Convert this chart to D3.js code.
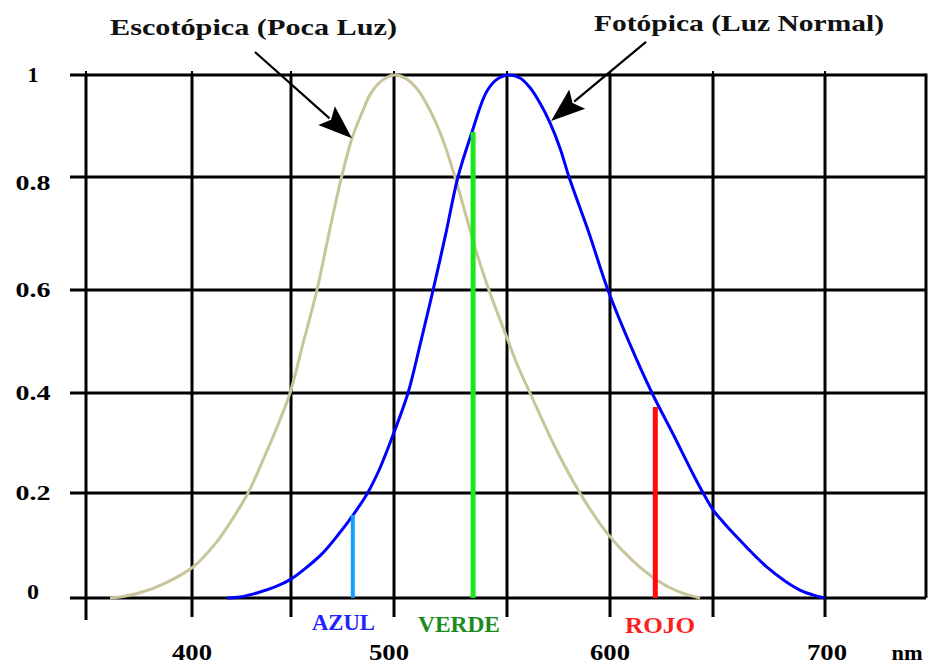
<!DOCTYPE html>
<html>
<head>
<meta charset="utf-8">
<script src="https://cdn.jsdelivr.net/npm/d3@7"></script>
<style>
  html, body { margin: 0; padding: 0; background: #fff; }
  svg { display: block; }
  text { font-family: "Liberation Serif", "Times New Roman", serif; font-weight: bold; }
</style>
</head>
<body>
<svg id="chart" width="928" height="666"></svg>
<script>
// ---------------- DATA ----------------
// grid breaks (nm) and labelled ticks
const gridWavelengths = [350, 400, 450, 500, 550, 600, 650, 700, 750];
const xTickLabels = [400, 500, 600, 700];
const yTicks = [0, 0.2, 0.4, 0.6, 0.8, 1];
const yTickLabels = ["0", "0.2", "0.4", "0.6", "0.8", "1"];

// Escotópica (scotopic) curve
const scotopicNm  = [361.3, 366, 375, 387.7, 400.5, 412.1, 420.2, 428.3, 437.4, 443.4, 449.5, 456.3, 462.6, 469, 474.8, 479.6, 485, 488.3, 493.2, 500, 504.9, 510.2, 515.9, 521.2, 527, 531.9, 536.7, 542, 550, 555.3, 561.2, 573.3, 585.4, 598.5, 610.7, 622.8, 633.9, 643.7];
const scotopicVal = [0, 0.002, 0.0095, 0.029, 0.059, 0.105, 0.149, 0.2, 0.28, 0.336, 0.4, 0.503, 0.6, 0.71, 0.804, 0.876, 0.931, 0.961, 0.986, 1.0, 0.994, 0.973, 0.931, 0.878, 0.8, 0.731, 0.664, 0.6, 0.507, 0.452, 0.4, 0.292, 0.2, 0.124, 0.072, 0.034, 0.011, 0];

// Fotópica (photopic) curve
const photopicNm  = [417.7, 424.2, 432.8, 441.9, 450, 457.8, 465.5, 472.8, 480.1, 486.9, 493.2, 500.4, 506.2, 511.5, 517.3, 523, 528.3, 534.5, 540.7, 545.1, 550.5, 556.3, 561.2, 566, 570.9, 575.7, 580.1, 589.8, 599, 610.2, 620.4, 630.6, 640.3, 645.2, 650, 654.9, 659.8, 674.1, 688.8, 694.6, 700];
const photopicVal = [0, 0.002, 0.0095, 0.021, 0.036, 0.059, 0.086, 0.12, 0.158, 0.198, 0.25, 0.326, 0.4, 0.493, 0.6, 0.701, 0.8, 0.888, 0.965, 0.99, 1.0, 0.994, 0.975, 0.945, 0.906, 0.857, 0.8, 0.701, 0.6, 0.49, 0.4, 0.318, 0.238, 0.2, 0.168, 0.143, 0.12, 0.059, 0.015, 0.006, 0];

// colour markers
const markerNames = ["AZUL", "VERDE", "ROJO"];
const markerNm = [480, 535, 622];
const markerVal = [0.158, 0.888, 0.372];

// annotations (data units): text, arrow start, arrow tip
const annotationText = ["Escotópica (Poca Luz)", "Fotópica (Luz Normal)"];
const arrowStartNm = [431.8, 617.5];
const arrowStartVal = [1.045, 1.065];
const arrowTipNm = [479.6, 571.4];
const arrowTipVal = [0.876, 0.91];

// ---------------- LAYOUT ----------------
const svg = d3.select("#chart");
const x = d3.scaleLinear()
  .domain(gridWavelengths)
  .range([86, 192, 291, 394, 507, 610, 713, 825, 926]);
const y = d3.scaleLinear()
  .domain(yTicks)
  .range([598, 493, 393, 290, 177, 75]);

const gridW = 3;
const xLeft = x(350), xRight = x(750);

// horizontal grid lines
svg.append("g").selectAll("line").data(yTicks).join("line")
  .attr("x1", xLeft - 16).attr("x2", xRight)
  .attr("y1", d => y(d)).attr("y2", d => y(d))
  .attr("stroke", "#000").attr("stroke-width", gridW);

// vertical grid lines
svg.append("g").selectAll("line").data(gridWavelengths).join("line")
  .attr("x1", d => x(d)).attr("x2", d => x(d))
  .attr("y1", y(1) - 1.5)
  .attr("y2", d => d === 750 ? y(0) : y(0) + (d === 350 ? 22 : 19))
  .attr("stroke", "#000").attr("stroke-width", gridW);

// small nubs above the top line
svg.append("g").selectAll("line").data(gridWavelengths.slice(0, 8)).join("line")
  .attr("x1", d => x(d)).attr("x2", d => x(d))
  .attr("y1", y(1) - 4).attr("y2", y(1))
  .attr("stroke", "#000").attr("stroke-width", 2);

// y labels
const yLabelWidth = { "0": 12, "1": 11 };
svg.append("g").selectAll("text").data(yTicks).join("text")
  .attr("x", 33)
  .attr("y", d => y(d) + (d === 0.8 ? 13 : (d === 0 ? 1 : 7)))
  .attr("text-anchor", "middle")
  .attr("font-size", 22)
  .attr("textLength", (d, i) => yLabelWidth[yTickLabels[i]] || 35)
  .attr("lengthAdjust", "spacingAndGlyphs")
  .text((d, i) => yTickLabels[i]);

// x labels
svg.append("g").selectAll("text").data(xTickLabels).join("text")
  .attr("x", d => x(d) - (d === 500 ? 5 : 0) + (d === 700 ? 2 : 0))
  .attr("y", 660)
  .attr("text-anchor", "middle")
  .attr("font-size", 24)
  .attr("textLength", 40)
  .attr("lengthAdjust", "spacingAndGlyphs")
  .text(d => d);

svg.append("text")
  .attr("x", 907).attr("y", 660)
  .attr("text-anchor", "middle")
  .attr("font-size", 22)
  .attr("textLength", 31)
  .attr("lengthAdjust", "spacingAndGlyphs")
  .text("nm");

// curves
const line = d3.line().x(d => x(d[0])).y(d => y(d[1])).curve(d3.curveCatmullRom.alpha(0.5));
svg.append("path")
  .datum(scotopicNm.map((n, i) => [n, scotopicVal[i]]))
  .attr("d", line)
  .attr("fill", "none").attr("stroke", "#c9c59b").attr("stroke-width", 3);
svg.append("path")
  .datum(photopicNm.map((n, i) => [n, photopicVal[i]]))
  .attr("d", line)
  .attr("fill", "none").attr("stroke", "#0000ff").attr("stroke-width", 3);

// colour marker bars
const barColors = ["#12a0ff", "#1ee61e", "#ff0a0a"];
const barWidths = [4, 5, 5];
svg.append("g").selectAll("line").data(markerNm).join("line")
  .attr("x1", d => x(d)).attr("x2", d => x(d))
  .attr("y1", (d, i) => y(markerVal[i])).attr("y2", y(0))
  .attr("stroke", (d, i) => barColors[i])
  .attr("stroke-width", (d, i) => barWidths[i]);

// colour labels
const labelColors = ["#2222ff", "#1c8c1c", "#ff1e1e"];
const labelCenters = [343.5, 459, 660];
const labelWidths = [63, 82, 70];
const labelBase = [630, 632, 633];
svg.append("g").selectAll("text").data(markerNames).join("text")
  .attr("x", (d, i) => labelCenters[i])
  .attr("y", (d, i) => labelBase[i])
  .attr("text-anchor", "middle")
  .attr("font-size", 23)
  .attr("font-weight", (d, i) => i === 2 ? "normal" : "bold")
  .attr("fill", (d, i) => labelColors[i])
  .attr("textLength", (d, i) => labelWidths[i])
  .attr("lengthAdjust", "spacingAndGlyphs")
  .text(d => d);

// annotation arrows
annotationText.forEach((t, i) => {
  const sx = x(arrowStartNm[i]), sy = y(arrowStartVal[i]);
  const tx = x(arrowTipNm[i]), ty = y(arrowTipVal[i]);
  const dx = tx - sx, dy = ty - sy, len = Math.hypot(dx, dy);
  const ux = dx / len, uy = dy / len;
  const headL = 34, headW = 12.5;
  const bx = tx - ux * headL, by = ty - uy * headL;
  svg.append("line")
    .attr("x1", sx).attr("y1", sy).attr("x2", bx + ux * 4).attr("y2", by + uy * 4)
    .attr("stroke", "#000").attr("stroke-width", 2.2);
  svg.append("path")
    .attr("d", d3.line()([
      [tx, ty],
      [bx - uy * headW, by + ux * headW],
      [bx + ux * 6, by + uy * 6],
      [bx + uy * headW, by - ux * headW]
    ]) + "Z")
    .attr("fill", "#000");
});

// annotation titles
const titleCenters = [253.5, 739];
const titleBase = [35, 31];
const titleWidths = [287, 290];
svg.append("g").selectAll("text").data(annotationText).join("text")
  .attr("x", (d, i) => titleCenters[i])
  .attr("y", (d, i) => titleBase[i])
  .attr("text-anchor", "middle")
  .attr("font-size", 24)
  .attr("fill", "#111")
  .attr("textLength", (d, i) => titleWidths[i])
  .attr("lengthAdjust", "spacingAndGlyphs")
  .text(d => d);
</script>
</body>
</html>
